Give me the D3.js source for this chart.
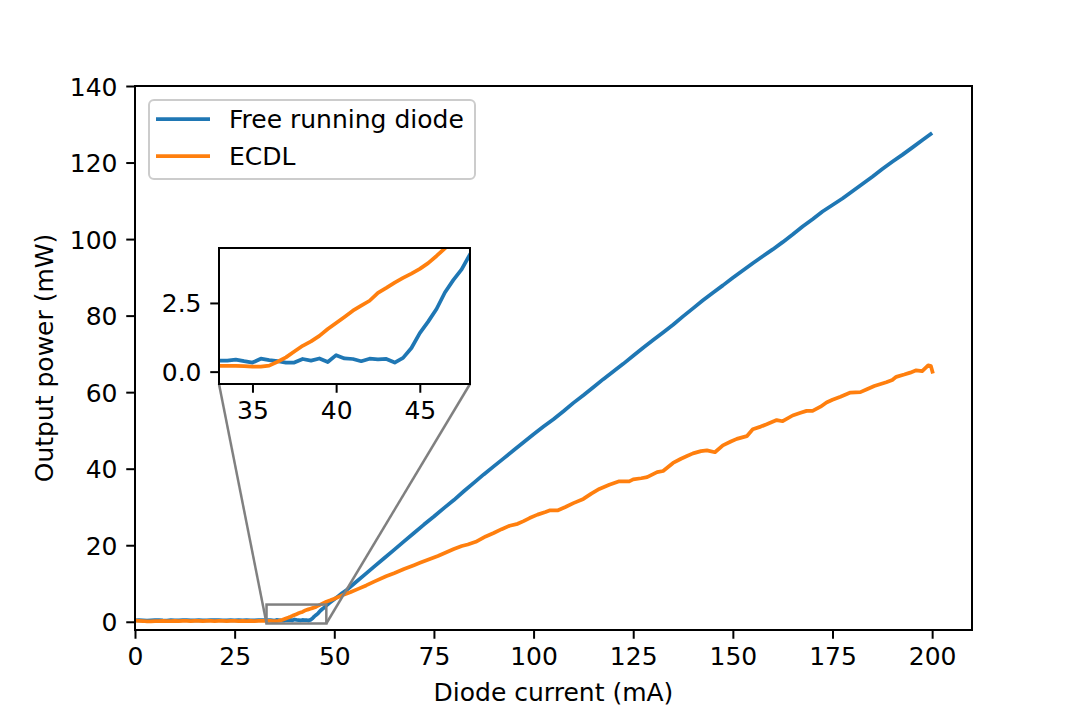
<!DOCTYPE html>
<html>
<head>
<meta charset="utf-8">
<script src="https://cdn.jsdelivr.net/npm/d3@7"></script>
<style>
  html, body { margin: 0; padding: 0; background: #fff; }
  svg { display: block; }
  text { font-family: "DejaVu Sans", sans-serif; }
</style>
</head>
<body>
<svg id="chart" width="1080" height="720"></svg>
<script>
// ---------------- DATA ----------------
const seriesNames = ["Free running diode", "ECDL"];

const currentFree = [
  0,1,2,3,4,5,6,7,8,9,10,11,12,13,14,15,16,17,18,19,20,21,22,23,24,25,26,27,28,29,30,31,32,
  33,33.5,34,34.5,35,35.5,36,36.5,37,37.5,38,38.5,39,39.5,40,40.5,41,41.5,42,42.5,43,43.5,44,44.5,45,45.5,46,46.5,47,47.5,48,
  49,50,51,52,53,55,57.5,60,62.5,65,67.5,70,72.5,75,77.5,80,82.5,85,87.5,90,92.5,95,97.5,100,
  102.5,105,107.5,110,112.5,115,117.5,120,122.5,125,127.5,130,132.5,135,137.5,140,142.5,145,147.5,150,
  152.5,155,157.5,160,162.5,165,167.5,170,172.5,175,177.5,180,182.5,185,187.5,190,192.5,195,197.5,200
];
const powerFree = [
  0.35,0.4,0.38,0.3,0.35,0.4,0.42,0.36,0.33,0.4,0.38,0.35,0.42,0.4,0.36,0.38,0.4,0.34,0.38,0.42,0.4,0.45,0.38,0.36,0.4,0.38,0.42,0.36,0.4,0.38,0.35,0.42,0.4,
  0.40,0.40,0.44,0.38,0.33,0.47,0.42,0.38,0.33,0.33,0.46,0.40,0.48,0.35,0.60,0.48,0.46,0.38,0.47,0.45,0.46,0.33,0.50,0.86,1.40,1.82,2.28,2.88,3.33,3.72,4.27,
  5.1,5.9,6.7,7.5,8.2,10.0,12.2,14.4,16.6,18.8,21.0,23.2,25.4,27.5,29.7,31.8,34.1,36.3,38.5,40.6,42.7,44.8,46.9,49.0,
  51.0,52.9,55.0,57.2,59.2,61.3,63.4,65.4,67.4,69.5,71.6,73.6,75.6,77.6,79.8,81.9,84.0,86.0,87.9,89.9,
  91.8,93.7,95.5,97.3,99.2,101.2,103.3,105.2,107.2,108.9,110.6,112.5,114.4,116.3,118.3,120.2,122.0,123.9,125.8,127.7
];

const currentEcdl = [
  0,1,2,3,4,5,6,7,8,9,10,11,12,13,14,15,16,17,18,19,20,21,22,23,24,25,26,27,28,29,30,31,32,
  33,33.5,34,34.5,35,35.5,36,36.5,37,37.5,38,38.5,39,39.5,40,40.5,41,41.5,42,42.5,43,43.5,44,44.5,45,45.5,46,46.5,47,47.5,48,
  49,50,52,54,56,58,60,63,65,67.5,70,71.5,74,76,78,80,82,83.5,85.5,88,90,92,94,96,97.5,99,101,103,104,106,108,110,
  112.5,114.5,116.5,119,121.5,124,125,127,128.5,131,132.5,135,137,138.5,140,142,143.5,145.5,147.5,149.5,151,153.5,155,157,158.5,
  161,162.5,165,167,168.5,170,172,173.5,175,177,179.5,182,183.5,185.5,188.5,190,191,193,194.5,196,197.5,199,199.7,200.2
];
const powerEcdl = [
  0.3,0.25,0.2,0.1,0.08,0.15,0.2,0.22,0.2,0.18,0.22,0.2,0.25,0.22,0.2,0.24,0.22,0.2,0.25,0.22,0.2,0.24,0.22,0.2,0.22,0.24,0.2,0.22,0.2,0.22,0.2,0.22,0.21,
  0.21,0.21,0.21,0.20,0.18,0.18,0.22,0.36,0.52,0.73,0.94,1.10,1.30,1.55,1.77,1.99,2.22,2.40,2.58,2.87,3.05,3.24,3.41,3.57,3.74,3.95,4.21,4.49,4.75,5.0,5.25,
  5.6,6.0,6.9,7.7,8.6,9.5,10.5,11.9,12.7,13.8,14.8,15.4,16.4,17.2,18.1,19.0,19.8,20.2,20.9,22.3,23.2,24.2,25.1,25.6,26.3,27.1,28.0,28.7,29.1,29.1,30.0,31.0,
  32.1,33.5,34.7,35.8,36.7,36.7,37.2,37.5,37.8,39.1,39.4,41.5,42.6,43.3,44.0,44.6,44.8,44.3,46.1,47.1,47.8,48.5,50.3,51.0,51.6,
  52.7,52.4,53.9,54.6,55.1,55.1,56.2,57.3,58.0,58.8,59.9,60.0,60.7,61.6,62.6,63.2,64.0,64.6,65.1,65.7,65.5,67.0,66.8,64.9
];

const xTicks = [0, 25, 50, 75, 100, 125, 150, 175, 200];
const yTicks = [0, 20, 40, 60, 80, 100, 120, 140];
const insetXTicks = [35, 40, 45];
const insetYTicks = [0, 2.5];
const xDomain = [0, 210];
const yDomain = [-2.15, 140];
const insetXDomain = [33, 48];
const insetYDomain = [-0.45, 4.5];

// ---------------- DRAWING ----------------
const colors = ["#1f77b4", "#ff7f0e"];
const FONT = 25;
const svg = d3.select("#chart");
svg.append("rect").attr("width", 1080).attr("height", 720).attr("fill", "#fff");

const M = { left: 135, right: 972, top: 86, bottom: 630 };
const x = d3.scaleLinear().domain(xDomain).range([M.left, M.right]);
const y = d3.scaleLinear().domain(yDomain).range([M.bottom, M.top]);

const I = { left: 219, right: 470, top: 248, bottom: 384 };
const xi = d3.scaleLinear().domain(insetXDomain).range([I.left, I.right]);
const yi = d3.scaleLinear().domain(insetYDomain).range([I.bottom, I.top]);

const freeData = currentFree.map((c, i) => [c, powerFree[i]]);
const ecdlData = currentEcdl.map((c, i) => [c, powerEcdl[i]]);
const allSeries = [freeData, ecdlData];

const defs = svg.append("defs");
defs.append("clipPath").attr("id", "clipMain").append("rect")
  .attr("x", M.left).attr("y", M.top).attr("width", M.right - M.left).attr("height", M.bottom - M.top);
defs.append("clipPath").attr("id", "clipInset").append("rect")
  .attr("x", I.left).attr("y", I.top).attr("width", I.right - I.left).attr("height", I.bottom - I.top);

// main lines
const lineMain = d3.line().x(d => x(d[0])).y(d => y(d[1]));
const gMain = svg.append("g").attr("clip-path", "url(#clipMain)");
allSeries.forEach((s, k) => {
  gMain.append("path").datum(s).attr("d", lineMain)
    .attr("fill", "none").attr("stroke", colors[k]).attr("stroke-width", 3.75)
    .attr("stroke-linejoin", "round").attr("stroke-linecap", "butt");
});

function styleAxis(g) {
  g.selectAll(".tick line").attr("stroke", "#000").attr("stroke-width", 2);
  g.selectAll(".tick text").attr("font-size", FONT).attr("fill", "#000")
    .attr("font-family", "DejaVu Sans, sans-serif");
  g.select(".domain").remove();
}

// main axes
const gx = svg.append("g").attr("transform", `translate(0,${M.bottom})`)
  .call(d3.axisBottom(x).tickValues(xTicks).tickSize(8.75).tickPadding(8.75).tickSizeOuter(0));
styleAxis(gx);
const gy = svg.append("g").attr("transform", `translate(${M.left},0)`)
  .call(d3.axisLeft(y).tickValues(yTicks).tickSize(8.75).tickPadding(8.75).tickSizeOuter(0));
styleAxis(gy);
gy.selectAll(".tick text").attr("dy", "0.36em");

svg.append("rect").attr("x", M.left).attr("y", M.top)
  .attr("width", M.right - M.left).attr("height", M.bottom - M.top)
  .attr("fill", "none").attr("stroke", "#000").attr("stroke-width", 2);

// axis labels
svg.append("text").attr("x", (M.left + M.right) / 2).attr("y", 700.5)
  .attr("text-anchor", "middle").attr("font-size", FONT).text("Diode current (mA)");
svg.append("text").attr("transform", `translate(53,${(M.top + M.bottom) / 2}) rotate(-90)`)
  .attr("text-anchor", "middle").attr("font-size", FONT).text("Output power (mW)");

// inset indicator rectangle + connectors
const grey = "#808080";
svg.append("rect")
  .attr("x", x(insetXDomain[0])).attr("y", y(insetYDomain[1]))
  .attr("width", x(insetXDomain[1]) - x(insetXDomain[0]))
  .attr("height", y(insetYDomain[0]) - y(insetYDomain[1]))
  .attr("fill", "none").attr("stroke", grey).attr("stroke-width", 2.5);
svg.append("line")
  .attr("x1", I.left).attr("y1", I.bottom)
  .attr("x2", x(insetXDomain[0])).attr("y2", y(insetYDomain[0]))
  .attr("stroke", grey).attr("stroke-width", 2.5);
svg.append("line")
  .attr("x1", I.right).attr("y1", I.bottom)
  .attr("x2", x(insetXDomain[1])).attr("y2", y(insetYDomain[0]))
  .attr("stroke", grey).attr("stroke-width", 2.5);

// inset axes
svg.append("rect").attr("x", I.left).attr("y", I.top)
  .attr("width", I.right - I.left).attr("height", I.bottom - I.top).attr("fill", "#fff");
const lineInset = d3.line().x(d => xi(d[0])).y(d => yi(d[1]));
const gIn = svg.append("g").attr("clip-path", "url(#clipInset)");
allSeries.forEach((s, k) => {
  gIn.append("path").datum(s).attr("d", lineInset)
    .attr("fill", "none").attr("stroke", colors[k]).attr("stroke-width", 3.75)
    .attr("stroke-linejoin", "round").attr("stroke-linecap", "butt");
});
const gxi = svg.append("g").attr("transform", `translate(0,${I.bottom})`)
  .call(d3.axisBottom(xi).tickValues(insetXTicks).tickSize(8.75).tickPadding(8.75).tickSizeOuter(0));
styleAxis(gxi);
const gyi = svg.append("g").attr("transform", `translate(${I.left},0)`)
  .call(d3.axisLeft(yi).tickValues(insetYTicks).tickFormat(d3.format(".1f")).tickSize(8.75).tickPadding(8.75).tickSizeOuter(0));
styleAxis(gyi);
gyi.selectAll(".tick text").attr("dy", "0.36em");
svg.append("rect").attr("x", I.left).attr("y", I.top)
  .attr("width", I.right - I.left).attr("height", I.bottom - I.top)
  .attr("fill", "none").attr("stroke", "#000").attr("stroke-width", 2);

// legend
const L = { x: 149, y: 100, w: 326, h: 79 };
svg.append("rect").attr("x", L.x).attr("y", L.y).attr("width", L.w).attr("height", L.h)
  .attr("rx", 5).attr("ry", 5)
  .attr("fill", "#fff").attr("fill-opacity", 0.8).attr("stroke", "#cccccc").attr("stroke-width", 2);
const legendRows = [119, 156];
seriesNames.forEach((name, k) => {
  svg.append("line").attr("x1", 156).attr("x2", 210)
    .attr("y1", legendRows[k]).attr("y2", legendRows[k])
    .attr("stroke", colors[k]).attr("stroke-width", 3.75);
  svg.append("text").attr("x", 229).attr("y", legendRows[k] + 8.6)
    .attr("font-size", FONT).attr("fill", "#000").text(name);
});
</script>
</body>
</html>
